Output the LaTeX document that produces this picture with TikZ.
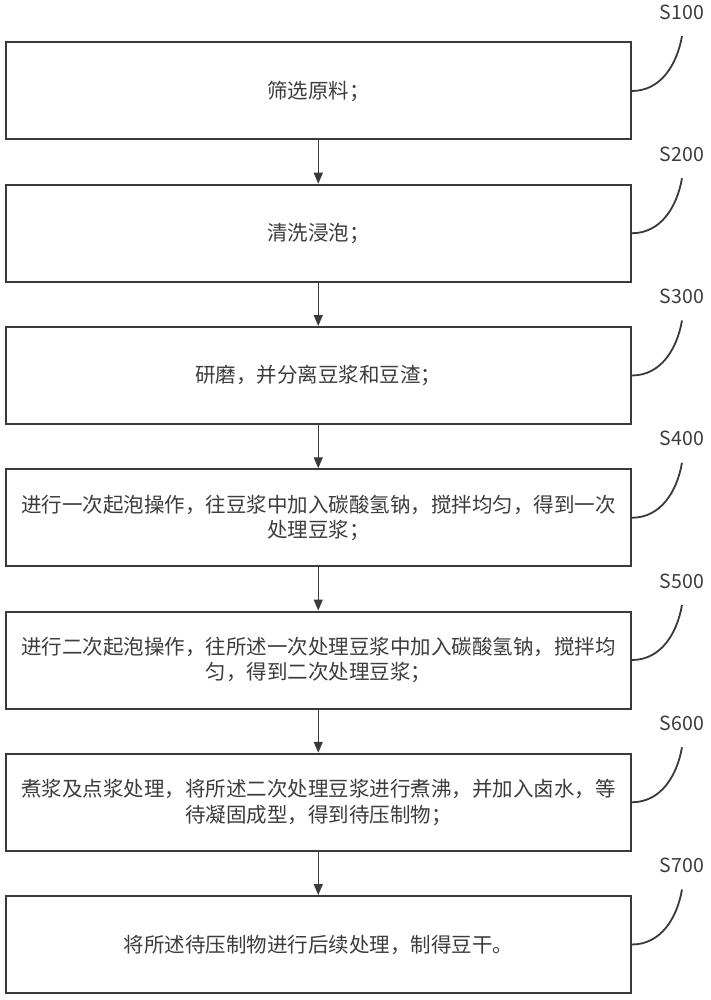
\documentclass[tikz,border=0pt]{standalone}
\usepackage{fontspec}
\newfontfamily\cjk{Noto Sans CJK SC}
\usetikzlibrary{arrows.meta}
\definecolor{lc}{HTML}{3A3A3A}
\definecolor{tc}{HTML}{3C3C3C}
\tikzset{
  stepbox/.style={draw=lc, line width=2pt, minimum width=625pt, minimum height=97pt, inner sep=0pt, align=center, text=tc, font=\cjk\fontsize{20.5}{25.5}\selectfont},
  flow/.style={draw=lc, line width=1.3pt, -{Triangle[length=11pt,width=9pt]}},
  lead/.style={draw=lc, line width=1.8pt},
  steplabel/.style={text=tc, font=\cjk\fontsize{19.5}{22}\selectfont, inner sep=0pt}
}
\begin{document}
\begin{tikzpicture}[x=1pt,y=-1pt]
\useasboundingbox (0,0) rectangle (710,1000);
\fill[white] (0,0) rectangle (710,1000);
\node[stepbox] (b1) at (318.25,91) {筛选原料；};
\node[stepbox] (b2) at (318.25,233.25) {清洗浸泡；};
\node[stepbox] (b3) at (318.25,375.5) {研磨，并分离豆浆和豆渣；};
\node[stepbox] (b4) at (318.25,517.75) {进行一次起泡操作，往豆浆中加入碳酸氢钠，搅拌均匀，得到一次\\处理豆浆；};
\node[stepbox] (b5) at (318.25,660) {进行二次起泡操作，往所述一次处理豆浆中加入碳酸氢钠，搅拌均\\匀，得到二次处理豆浆；};
\node[stepbox] (b6) at (318.25,802.25) {煮浆及点浆处理，将所述二次处理豆浆进行煮沸，并加入卤水，等\\待凝固成型，得到待压制物；};
\node[stepbox] (b7) at (318.25,944.5) {将所述待压制物进行后续处理，制得豆干。};
\foreach \i/\n in {1/2,2/3,3/4,4/5,5/6,6/7}{
  \draw[flow] (b\i.south) -- (b\n.north);
}
\foreach \i/\lab in {1/S100,2/S200,3/S300,4/S400,5/S500,6/S600,7/S700}{
  \pgfmathsetmacro{\yy}{91-55+142.25*(\i-1)}
  \pgfmathsetmacro{\ly}{91-79+142.25*(\i-1)}
  \coordinate (c\i) at (682,\yy);
  \node[steplabel] (l\i) at (682,\ly) {\lab};
  \draw[lead] (b\i.east) to[out=0,in=-100] (c\i);
}
\end{tikzpicture}
\end{document}
